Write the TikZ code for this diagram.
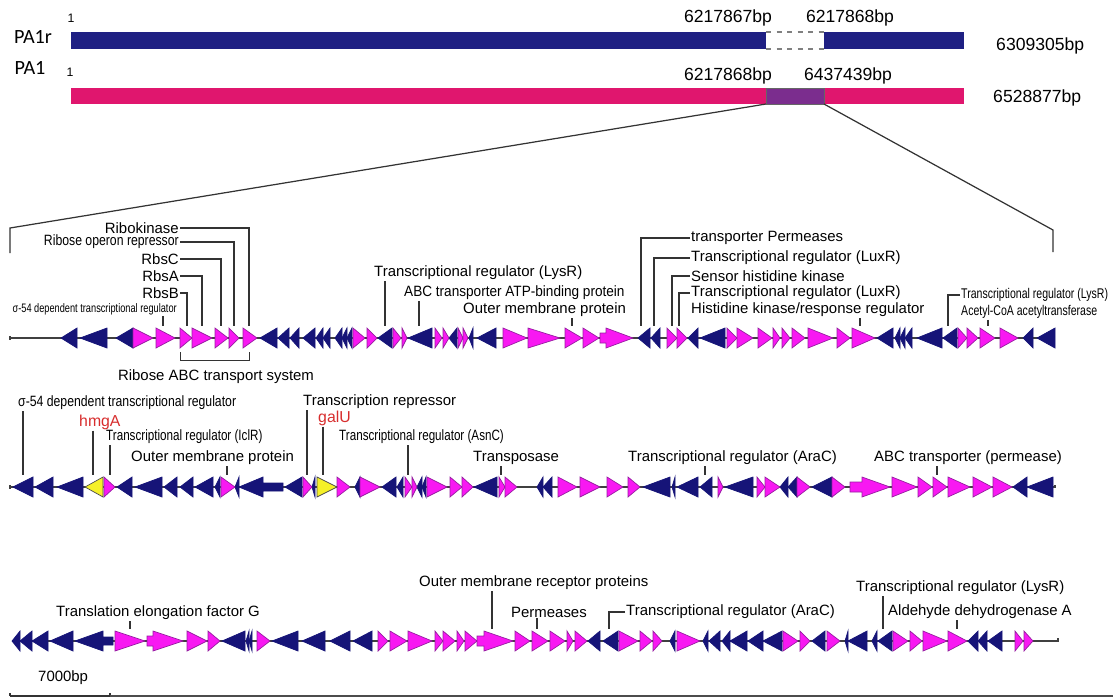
\documentclass[tikz,border=0pt]{standalone}
\usepackage{fontspec}
\setmainfont{Liberation Sans}
\newfontfamily\narrowA[FakeStretch=0.75]{Liberation Sans}
\newfontfamily\narrowB[FakeStretch=0.82]{Liberation Sans}
\newfontfamily\narrowC[FakeStretch=0.91]{Liberation Sans}
\newfontfamily\narrowD[FakeStretch=0.78]{Liberation Sans}
\newfontfamily\calib{Carlito}
\usepackage{tikz}
\usetikzlibrary{calc}
\definecolor{genenavy}{RGB}{22,20,120}
\definecolor{genepink}{RGB}{248,24,242}
\definecolor{pinkedge}{RGB}{150,30,160}
\definecolor{barnavy}{RGB}{31,32,131}
\definecolor{barpink}{RGB}{224,22,110}
\definecolor{barpurple}{RGB}{123,45,142}
\definecolor{hiyellow}{RGB}{245,240,40}
\definecolor{labelred}{RGB}{215,45,45}
\begin{document}
\begin{tikzpicture}[x=0.02cm, y=-0.02cm,
  rev/.style={fill=genenavy, draw=genenavy, line width=0.4pt},
  fwd/.style={fill=genepink, draw=pinkedge, line width=0.4pt},
  ylw/.style={fill=hiyellow, draw=black!70, line width=0.4pt},
  spine/.style={draw=black!75, line width=0.6pt},
  lead/.style={draw=black!80, line width=0.7pt},
  lbl/.style={font=\fontsize{8.5}{10}\selectfont, inner sep=0.5pt},
  nlbl/.style={font=\narrowB\fontsize{8.5}{10}\selectfont, inner sep=0.5pt},
  tlbl/.style={font=\narrowD\fontsize{8.5}{10}\selectfont, inner sep=0.5pt},
  slbl/.style={font=\narrowA\fontsize{8}{9}\selectfont, inner sep=0.5pt},
  red/.style={lbl, text=labelred, font=\fontsize{9}{10}\selectfont},
  num/.style={font=\fontsize{10}{12}\selectfont, inner sep=0.5pt},
  strain/.style={font=\calib\fontsize{11.5}{13}\selectfont, inner sep=0.5pt}
]
\useasboundingbox (0,0) rectangle (1113,698);

% genome bars
\node[strain] (pa1r) at (33,37) {PA1r};
\node[strain] (pa1) at (30,68) {PA1};
\node[font=\fontsize{7}{8}\selectfont] (one1) at (71,18) {1};
\node[font=\fontsize{7}{8}\selectfont] (one2) at (70,72) {1};
\fill[barnavy] (71,32) rectangle (766,49);
\fill[barnavy] (824,32) rectangle (964,49);
\draw[gray, dashed, line width=0.6pt] (766,32) -- (824,32) (766,49) -- (824,49);
\fill[barpink] (71,88) rectangle (964,104);
\filldraw[fill=barpurple, draw=black!60, line width=0.4pt] (766,88) rectangle (824,104);
\node[num] (gapL) at (728,18) {6217867bp};
\node[num] (gapR) at (850,18) {6217868bp};
\node[num, anchor=west] (lenR) at (995,46) {6309305bp};
\node[num] (insLbl) at (728,76) {6217868bp};
\node[num] (insRbl) at (848,76) {6437439bp};
\node[num, anchor=west] (lenP) at (992,98) {6528877bp};

% zoom lines
\coordinate (insL) at (766,104);
\coordinate (insR) at (824,104);
\coordinate (zL) at (10,228);
\coordinate (zR) at (1053,230);
\draw[lead] (insL) -- (zL) -- ++(0,25);
\draw[lead] (insR) -- (zR) -- ++(0,22);

% row 1
\draw[spine] (10,336) -- (10,340) (10,338) -- (1055,338);
\foreach \a/\b in {61/77, 80/107, 116/133, 260/277, 278/289, 290/299, 303/315, 316/323, 323/330,
  335/342, 342/347, 347/352, 378/392, 408/432, 449/457, 469/473, 477/496, 638/650, 651/660,
  688/698, 700/725, 877/893, 895/900, 900/905, 905/912, 917/942, 943/957, 1023/1033, 1037/1055}
  \filldraw[rev] (\b,328) -- (\a,338) -- (\b,348) -- cycle;
\foreach \a/\b in {133/153, 156/175, 180/192, 192/212, 215/228, 229/239, 243/257, 353/365, 367/377,
  393/401, 402/407, 435/442, 443/449, 458/463, 463/468, 503/527, 528/560, 565/582, 583/599,
  667/677, 677/687, 727/737, 737/753, 758/772, 773/780, 782/790, 792/805, 808/833, 837/850,
  852/875, 958/967, 967/978, 980/995, 1000/1018}
  \filldraw[fwd] (\a,328) -- (\b,338) -- (\a,348) -- cycle;
\filldraw[fwd] (600,333) -- (606,333) -- (606,328) -- (633,338) -- (606,348) -- (606,343) -- (600,343) -- cycle;

\node[lbl, anchor=east] (ribok) at (180,228) {Ribokinase};
\node[nlbl, anchor=east] (rorep) at (180,242) {Ribose operon repressor};
\node[lbl, anchor=east] (rbsC) at (180,259) {RbsC};
\node[lbl, anchor=east] (rbsA) at (180,276) {RbsA};
\node[lbl, anchor=east] (rbsB) at (180,293) {RbsB};
\node[slbl, font=\narrowA\fontsize{7}{8}\selectfont, anchor=east] (sigA) at (178,309) {σ-54 dependent transcriptional regulator};
\node[lbl] (ribabc) at (216,377) {Ribose ABC transport system};
\node[lbl, anchor=west] (lysrA) at (373,273) {Transcriptional regulator (LysR)};
\node[lbl, font=\narrowC\fontsize{8.5}{10}\selectfont, anchor=west] (abcatp) at (403,293) {ABC transporter ATP-binding protein};
\node[lbl, anchor=west] (ompA) at (462,310) {Outer membrane protein};
\node[lbl, anchor=west] (permA) at (690,238) {transporter Permeases};
\node[lbl, anchor=west] (luxrA) at (690,258) {Transcriptional regulator (LuxR)};
\node[lbl, anchor=west] (shk) at (690,276) {Sensor histidine kinase};
\node[lbl, anchor=west] (luxrB) at (690,293) {Transcriptional regulator (LuxR)};
\node[lbl, anchor=west] (hkrr) at (690,310) {Histidine kinase/response regulator};
\node[slbl, anchor=west] (lysrB) at (960,295) {Transcriptional regulator (LysR)};
\node[slbl, anchor=west] (acoa) at (960,312) {Acetyl-CoA acetyltransferase};

\foreach \n/\x in {ribok/249, rorep/234, rbsC/221, rbsA/202, rbsB/187, sigA/163, lysrA/385,
  abcatp/419, ompA/572, permA/641, luxrA/654, shk/672, luxrB/679, hkrr/860, lysrB/948, acoa/988}
  \coordinate (t-\n) at (\x,326);
\foreach \n in {ribok, rorep, rbsC, rbsA, rbsB}
  \draw[lead] (\n.east) -| (t-\n);
\foreach \n in {permA, luxrA, shk, luxrB, lysrB}
  \draw[lead] (\n.west) -| (t-\n);
\foreach \n in {sigA, lysrA, abcatp, ompA, hkrr, acoa}
  \draw[lead] (\n.south -| t-\n) -- (t-\n);
\coordinate (brL) at (180,352);
\coordinate (brR) at (249,352);
\draw[lead, line width=0.5pt] (brL) -- ++(0,8) -| (brR);

% row 2
\draw[spine] (10,485) -- (10,489) (10,487) -- (1055,487) -- (1055,485);
\foreach \a/\b in {13/33, 35/53, 57/83, 117/132, 135/162, 164/177, 180/193, 195/213, 215/220,
  235/239, 285/302, 312/315, 355/360, 382/396, 397/403, 417/422, 422/426, 474/497, 537/543,
  543/552, 643/670, 672/675, 677/698, 700/712, 725/753, 780/788, 788/797, 812/832, 1013/1027, 1027/1053}
  \filldraw[rev] (\b,477) -- (\a,487) -- (\b,497) -- cycle;
\foreach \a/\b in {104/115, 221/235, 303/312, 337/350, 360/380, 405/412, 412/417, 427/447,
  450/462, 462/473, 499/505, 505/517, 558/577, 580/600, 607/623, 628/640, 718/723, 757/765,
  765/780, 797/810, 832/845, 892/917, 918/932, 933/947, 948/970, 973/992, 993/1012}
  \filldraw[fwd] (\a,477) -- (\b,487) -- (\a,497) -- cycle;
\filldraw[rev] (239,487) -- (263,477) -- (263,483) -- (283,483) -- (283,491) -- (263,491) -- (263,497) -- cycle;
\filldraw[fwd] (850,482) -- (862,482) -- (862,477) -- (890,487) -- (862,497) -- (862,492) -- (850,492) -- cycle;
\filldraw[ylw] (103,477) -- (85,487) -- (103,497) -- cycle;
\filldraw[ylw] (317,477) -- (337,487) -- (317,497) -- cycle;

\node[nlbl, anchor=west] (sigB) at (17,403) {σ-54 dependent transcriptional regulator};
\node[red, anchor=west] (hmga) at (78,422) {hmgA};
\node[tlbl, anchor=west] (iclr) at (105,437) {Transcriptional regulator (IclR)};
\node[lbl, anchor=west] (ompB) at (130,458) {Outer membrane protein};
\node[lbl, anchor=west] (trep) at (302,402) {Transcription repressor};
\node[red, anchor=west] (galu) at (317,418) {galU};
\node[tlbl, anchor=west] (asnc) at (338,437) {Transcriptional regulator (AsnC)};
\node[lbl, anchor=west] (tpase) at (472,458) {Transposase};
\node[lbl, anchor=west] (aracA) at (627,458) {Transcriptional regulator (AraC)};
\node[lbl, anchor=west] (abcperm) at (873,458) {ABC transporter (permease)};

\foreach \n/\x in {sigB/23, hmga/93, iclr/110, ompB/227, trep/307, galu/323, asnc/408,
  tpase/501, aracA/705, abcperm/937}
  \coordinate (t-\n) at (\x,475);
\foreach \n in {sigB, hmga, iclr, ompB, trep, galu, asnc, tpase, aracA, abcperm}
  \draw[lead] (\n.south -| t-\n) -- (t-\n);

% row 3
\draw[spine] (12,641) -- (1058,641) -- (1058,638);
\foreach \a/\b in {12/20, 20/32, 32/48, 50/73, 222/245, 246/249, 249/252, 272/298, 302/325,
  330/350, 353/372, 588/600, 603/618, 670/675, 703/708, 709/720, 722/730, 730/747, 748/763,
  763/782, 812/825, 845/848, 848/867, 872/877, 878/892, 968/978, 978/987, 988/1002}
  \filldraw[rev] (\b,631) -- (\a,641) -- (\b,651) -- cycle;
\foreach \a/\b in {115/145, 187/207, 208/220, 257/270, 378/388, 390/407, 408/432, 435/443,
  443/455, 457/464, 465/477, 515/530, 532/548, 550/565, 567/573, 575/587, 619/638, 640/652,
  653/662, 677/700, 783/798, 800/810, 827/840, 893/908, 910/922, 923/947, 948/967, 1015/1023, 1024/1033}
  \filldraw[fwd] (\a,631) -- (\b,641) -- (\a,651) -- cycle;
\filldraw[rev] (75,641) -- (103,631) -- (103,637) -- (113,637) -- (113,645) -- (103,645) -- (103,651) -- cycle;
\filldraw[fwd] (147,636) -- (153,636) -- (153,631) -- (183,641) -- (153,651) -- (153,646) -- (147,646) -- cycle;
\filldraw[fwd] (477,636) -- (484,636) -- (484,631) -- (513,641) -- (484,651) -- (484,646) -- (477,646) -- cycle;

\node[lbl, anchor=west] (tefg) at (55,613) {Translation elongation factor G};
\node[lbl, anchor=west] (omrp) at (418,583) {Outer membrane receptor proteins};
\node[lbl, anchor=west] (permB) at (510,612) {Permeases};
\node[lbl, anchor=west] (aracB) at (625,612) {Transcriptional regulator (AraC)};
\node[lbl, anchor=west] (lysrC) at (855,588) {Transcriptional regulator (LysR)};
\node[lbl, anchor=west] (aldh) at (887,612) {Aldehyde dehydrogenase A};

\foreach \n/\x in {tefg/130, omrp/492, permB/537, aracB/609, lysrC/883, aldh/957}
  \coordinate (t-\n) at (\x,629);
\foreach \n in {tefg, omrp, permB, lysrC, aldh}
  \draw[lead] (\n.south -| t-\n) -- (t-\n);
\draw[lead] (aracB.west) -| (t-aracB);

% scale bar
\node[lbl, anchor=west] (scale) at (37,678) {7000bp};
\coordinate (sbL) at (10,696);
\coordinate (sbR) at (110,696);
\coordinate (edge) at (1113,696);
\draw[black!80, line width=0.6pt] (sbL) -- ++(0,-3) (sbL) -- (sbR) -- ++(0,-3);
\draw[black!70, line width=1pt] (sbR) -- (edge);
\end{tikzpicture}
\end{document}
